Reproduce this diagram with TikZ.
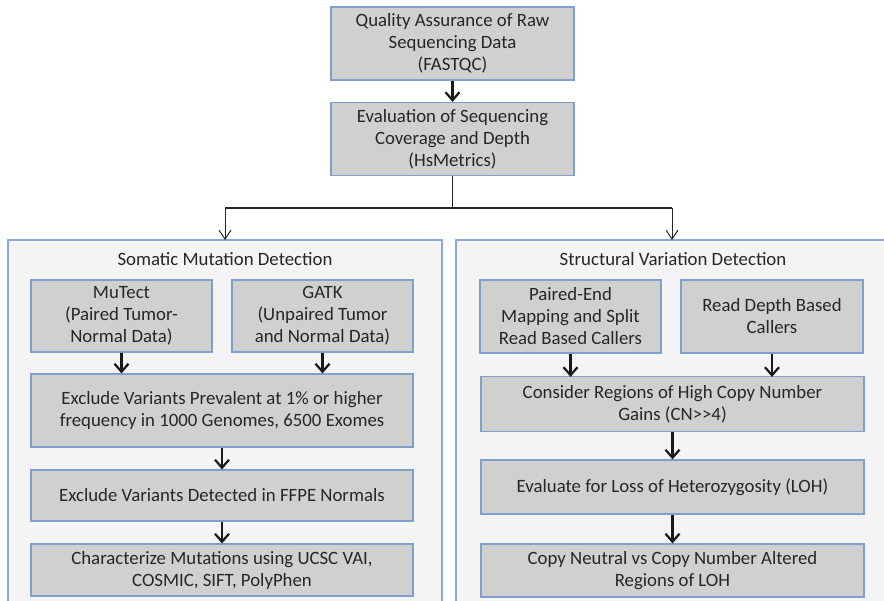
\documentclass[tikz,border=0pt]{standalone}
\usepackage{fontspec}
\setmainfont{Carlito}
\usetikzlibrary{arrows.meta}
\definecolor{boxfill}{HTML}{D0D0D0}
\definecolor{boxline}{HTML}{7F9FCF}
\definecolor{contfill}{HTML}{F4F4F4}
\definecolor{contline}{HTML}{8AA8D8}
\begin{document}
\begin{tikzpicture}[x=1pt,y=-1pt,
  every node/.style={font=\fontsize{18.8}{22}\selectfont, text=black!85, inner sep=0pt, align=center},
  stepbox/.style={draw=boxline, fill=boxfill, line width=1.2pt, rectangle},
  container/.style={draw=contline, fill=contfill, line width=1.6pt},
  bigarrow/.style={draw=black!90, line width=2.2pt, -{Straight Barb[length=8pt,width=14pt,line width=2.2pt]}},
  thinarrow/.style={draw=black!85, line width=1pt, -{Straight Barb[length=9pt,width=12pt,line width=1pt]}}]
\useasboundingbox (0,0) rectangle (884,601);
\begin{scope}
\clip (0,0) rectangle (884,601);
\draw[container] (8,240) rectangle (442,620);
\draw[container] (456,240) rectangle (900,620);
\end{scope}
\node (ttl1) at (225,259) {Somatic Mutation Detection};
\node (ttl2) at (673,259) {Structural Variation Detection};
% top boxes
\node[stepbox, minimum width=243pt, minimum height=73pt] (qa) at (452.5,43.5) {Quality Assurance of Raw\\Sequencing Data\\(FASTQC)};
\node[stepbox, minimum width=243pt, minimum height=73pt] (ev) at (452.5,139) {Evaluation of Sequencing\\Coverage and Depth\\(HsMetrics)};
% left
\node[stepbox, minimum width=181pt, minimum height=72pt] (mu) at (121.5,316) {MuTect\\(Paired Tumor-\\Normal Data)};
\node[stepbox, minimum width=181pt, minimum height=72pt] (ga) at (322.5,316) {GATK\\(Unpaired Tumor\\and Normal Data)};
\node[stepbox, minimum width=382pt, minimum height=73pt] (ex1) at (222,410.5) {Exclude Variants Prevalent at 1\% or higher\\frequency in 1000 Genomes, 6500 Exomes};
\node[stepbox, minimum width=382pt, minimum height=51pt] (ex2) at (222,495.5) {Exclude Variants Detected in FFPE Normals};
\node[stepbox, minimum width=382pt, minimum height=52pt] (ch) at (222,570) {Characterize Mutations using UCSC VAI,\\COSMIC, SIFT, PolyPhen};
% right
\node[stepbox, minimum width=181pt, minimum height=73pt] (pe) at (570.5,316.5) {Paired-End\\Mapping and Split\\Read Based Callers};
\node[stepbox, minimum width=182pt, minimum height=73pt] (rd) at (772,316.5) {Read Depth Based\\Callers};
\node[stepbox, minimum width=383pt, minimum height=55pt] (cr) at (672.5,404) {Consider Regions of High Copy Number\\Gains (CN>{}>4)};
\node[stepbox, minimum width=383pt, minimum height=54pt] (el) at (672.5,487) {Evaluate for Loss of Heterozygosity (LOH)};
\node[stepbox, minimum width=383pt, minimum height=53pt] (cn) at (672.5,570.5) {Copy Neutral vs Copy Number Altered\\Regions of LOH};
% connectors
\coordinate (jn) at (452.5,208);
\coordinate (jl) at (225,208);
\coordinate (jr) at (672,208);
\coordinate (cl) at (225,240);
\coordinate (cr2) at (672,240);
\draw[bigarrow] (qa) -- (ev);
\draw[line width=1.1pt, black!85] (ev.south) -- (jn);
\draw[line width=1.1pt, black!85] (jl) -- (jr);
\draw[thinarrow] (jl) -- (cl);
\draw[thinarrow] (jr) -- (cr2);
\draw[bigarrow] (mu.south) -- (mu.south |- ex1.north);
\draw[bigarrow] (ga.south) -- (ga.south |- ex1.north);
\draw[bigarrow] (ex1) -- (ex2);
\draw[bigarrow] (ex2) -- (ch);
\draw[bigarrow] (pe.south) -- ([yshift=-1pt]pe.south |- cr.north);
\draw[bigarrow] (rd.south) -- ([yshift=-1pt]rd.south |- cr.north);
\draw[bigarrow] (cr) -- (el);
\draw[bigarrow] (el) -- (cn);
\end{tikzpicture}
\end{document}
